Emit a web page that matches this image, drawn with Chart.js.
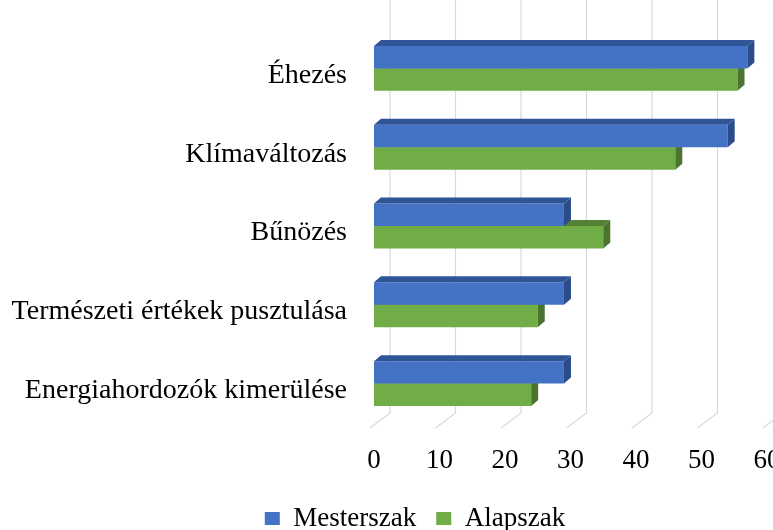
<!DOCTYPE html>
<html>
<head>
<meta charset="utf-8">
<script src="https://cdn.jsdelivr.net/npm/chart.js@4.4.0/dist/chart.umd.min.js"></script>
<style>
  body { margin: 0; background: #fff; }
  #wrap { width: 773px; height: 530px; }
</style>
</head>
<body>
<div id="wrap"><canvas id="myChart"></canvas></div>
<script>
'use strict';

let categories = [
  'Éhezés',
  'Klímaváltozás',
  'Bűnözés',
  'Természeti értékek pusztulása',
  'Energiahordozók kimerülése'
];
let mesterszak = [57, 54, 29, 29, 29];
let alapszak = [55.5, 46, 35, 25, 24];
let tickValues = [0, 10, 20, 30, 40, 50, 60];

let font = 'Liberation Serif, Times New Roman, serif';
let dx = 7;
let dy = 6;

// back wall grid lines + little floor diagonals
let gridPlugin = {
  id: 'grid3d',
  afterLayout(chart) {
    // legend sits a bit right of the canvas centre
    chart.legend.left = 63;
  },
  beforeDatasetsDraw(chart) {
    let ctx = chart.ctx;
    let xs = chart.scales.x;
    let area = chart.chartArea;
    ctx.save();
    ctx.strokeStyle = '#d9d9d9';
    ctx.lineWidth = 1.2;
    for (let i = 0; i < tickValues.length; i++) {
      let px = xs.getPixelForValue(tickValues[i]);
      ctx.beginPath();
      ctx.moveTo(px + 16, 0);
      ctx.lineTo(px + 16, area.bottom - 10);
      ctx.lineTo(px - 4, area.bottom + 5);
      ctx.stroke();
    }
    ctx.restore();
  }
};

// top and side faces of each bar
let facePlugin = {
  id: 'faces3d',
  afterDatasetDraw(chart, args) {
    let ctx = chart.ctx;
    let ds = chart.data.datasets[args.index];
    ctx.save();
    args.meta.data.forEach(function (bar) {
      let p = bar.getProps(['x', 'y', 'base', 'height'], true);
      let top = p.y - p.height / 2;
      let bottom = p.y + p.height / 2;
      ctx.fillStyle = ds.topColor;
      ctx.beginPath();
      ctx.moveTo(p.base, top);
      ctx.lineTo(p.base + dx, top - dy);
      ctx.lineTo(p.x + dx, top - dy);
      ctx.lineTo(p.x, top);
      ctx.closePath();
      ctx.fill();
      ctx.fillStyle = ds.sideColor;
      ctx.beginPath();
      ctx.moveTo(p.x, top);
      ctx.lineTo(p.x + dx, top - dy);
      ctx.lineTo(p.x + dx, bottom - dy);
      ctx.lineTo(p.x, bottom);
      ctx.closePath();
      ctx.fill();
    });
    ctx.restore();
  }
};

let ctx = document.getElementById('myChart').getContext('2d');
let myChart = new Chart(ctx, {
  type: 'bar',
  data: {
    labels: categories,
    datasets: [{
      label: 'Mesterszak',
      data: mesterszak,
      backgroundColor: '#4472c4',
      topColor: '#2f5597',
      sideColor: '#2a4d8a',
      borderWidth: 0
    }, {
      label: 'Alapszak',
      data: alapszak,
      backgroundColor: '#70ad47',
      topColor: '#548235',
      sideColor: '#4b7430',
      borderWidth: 0
    }]
  },
  options: {
    indexAxis: 'y',
    responsive: true,
    maintainAspectRatio: false,
    animation: false,
    devicePixelRatio: 1,
    layout: { padding: { top: 29, right: 6, left: 0, bottom: -12 } },
    datasets: {
      bar: { barPercentage: 1, categoryPercentage: 0.57 }
    },
    scales: {
      x: {
        min: 0,
        max: 60,
        afterBuildTicks(scale) {
          scale.ticks = tickValues.map(v => ({ value: v }));
        },
        afterFit(scale) {
          scale.paddingRight = 0;
          scale.paddingLeft = 0;
          scale.height = 62;
        },
        grid: { display: false, drawTicks: false },
        border: { display: false },
        ticks: {
          padding: 22,
          color: '#000',
          font: { family: font, size: 27 }
        }
      },
      y: {
        afterFit(scale) {
          scale.width = 374;
          scale.paddingTop = 0;
          scale.paddingBottom = 0;
        },
        grid: { display: false, drawTicks: false },
        border: { display: false },
        ticks: {
          padding: 27,
          labelOffset: 7,
          color: '#000',
          font: { family: font, size: 28 }
        }
      }
    },
    plugins: {
      legend: {
        position: 'bottom',
        labels: {
          color: '#000',
          boxWidth: 15,
          boxHeight: 13,
          padding: 20,
          font: { family: font, size: 27 }
        }
      },
      tooltip: { enabled: false }
    }
  },
  plugins: [gridPlugin, facePlugin]
});
</script>
</body>
</html>
